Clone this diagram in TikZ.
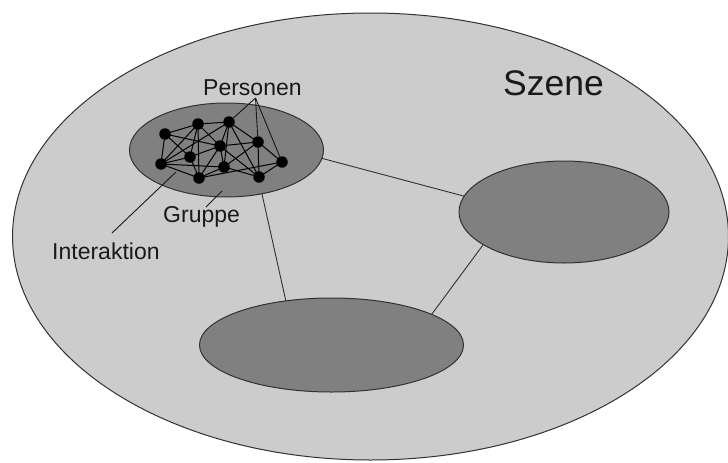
\documentclass[tikz,border=0pt]{standalone}
\usepackage{fontspec}
\setmainfont{Liberation Sans}
\usetikzlibrary{shapes.geometric}
\definecolor{outer}{RGB}{204,204,204}
\definecolor{inner}{RGB}{128,128,128}
\definecolor{rim}{RGB}{50,50,50}
\definecolor{ink}{RGB}{25,25,25}
\tikzset{
  region/.style={ellipse, draw=rim, line width=1pt, fill=inner, inner sep=0pt, outer sep=0pt},
  person/.style={circle, fill=black, inner sep=0pt, minimum size=11.5pt},
  tie/.style={black, line width=1pt},
  link/.style={rim, line width=0.9pt},
  pointer/.style={ink, line width=0.9pt},
  lbl/.style={inner sep=0pt, anchor=base west, font=\fontsize{23}{26}\selectfont, text=ink}
}
\begin{document}
\begin{tikzpicture}[x=1pt,y=-1pt]
\useasboundingbox (0,0) rectangle (728,463);
\fill[white] (0,0) rectangle (728,463);
\begin{scope}
\clip (0,0) rectangle (728,463);
\node[ellipse, draw=rim, line width=1pt, fill=outer, inner sep=0pt, outer sep=0pt,
      minimum width=716pt, minimum height=447pt] (scene) at (370.5,236.5) {};
\end{scope}

\node[region, minimum width=194pt, minimum height=94pt] (grp) at (226.5,150) {};
\node[region, minimum width=210pt, minimum height=102pt] (right) at (564,212) {};
\node[region, minimum width=264pt, minimum height=94pt] (bottom) at (331.5,345) {};

\draw[link] (grp.-5.3) -- (right.171.7);
\draw[link] (grp.-51.9) -- (bottom.136.5);
\draw[link] (right.202.6) -- (bottom.17.1);

% persons
\coordinate (p1) at (165,134);
\coordinate (p2) at (198,124);
\coordinate (p3) at (229,122);
\coordinate (p4) at (220,146);
\coordinate (p5) at (258,142);
\coordinate (p6) at (282,162);
\coordinate (p7) at (190,157);
\coordinate (p8) at (161,164);
\coordinate (p9) at (199,178);
\coordinate (p10) at (224,167);
\coordinate (p11) at (259,177);

\foreach \a/\b in {1/2,1/8,1/7,1/4,2/3,2/7,2/9,2/4,2/8,3/4,3/5,3/10,3/11,3/8,
                   4/5,4/7,4/9,4/10,4/11,5/6,5/10,5/11,6/11,6/9,7/8,7/9,8/9,8/10,9/10,10/11}
  \draw[tie] (p\a) -- (p\b);

\foreach \i in {1,...,11}
  \node[person] (n\i) at (p\i) {};

% labels
\node[font=\fontsize{35.5}{40}\selectfont, text=ink, inner sep=0pt, anchor=base west] (szene) at (503,95) {Szene};
\node[lbl] (personen) at (203,95) {Personen};
\node[lbl] (gruppe) at (163,222) {Gruppe};
\node[lbl] (interaktion) at (52,259) {Interaktion};

\coordinate (apex) at (255.5,98);
\draw[pointer] (apex) -- (n3);
\draw[pointer] (apex) -- (n5);
\draw[pointer] (apex) -- (n6);

\coordinate (gstart) at (206,207);
\coordinate (gend) at (222,191);
\draw[pointer] (gstart) -- (gend);

\coordinate (istart) at (112,233);
\coordinate (iend) at (176,172);
\draw[pointer] (istart) -- (iend);
\end{tikzpicture}
\end{document}
